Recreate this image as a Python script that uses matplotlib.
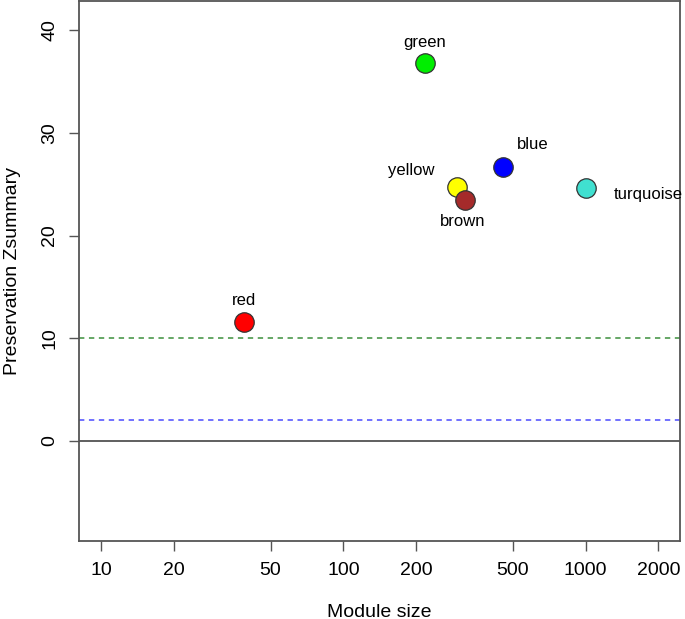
import matplotlib.pyplot as plt
import numpy as np

plt.rcParams['font.family'] = ['Liberation Sans', 'DejaVu Sans']

# Module data
modules = ["red", "green", "yellow", "brown", "blue", "turquoise"]
module_size = [39, 217, 295, 318, 455, 1000]
zsummary = [11.6, 36.8, 24.75, 23.45, 26.7, 24.6]
colores = ["#ff0000", "#00ee00", "#ffff00", "#a52a2a", "#0000ff", "#40e0d0"]

# label offsets in points (dx, dy) and alignment
offsets = {
    "red": (0, 15.5, "center"),
    "green": (0, 15, "center"),
    "yellow": (-33, 11.5, "center"),
    "brown": (-1.5, -15.5, "center"),
    "blue": (21.5, 16, "center"),
    "turquoise": (20.5, -4.5, "left"),
}

x_ticks = [10, 20, 50, 100, 200, 500, 1000, 2000]
y_ticks = [0, 10, 20, 30, 40]

fig = plt.figure(figsize=(6.85, 6.19), dpi=100)
ax = fig.add_axes([79.3 / 685, 1 - 540.7 / 619, (680 - 79.3) / 685, (540.7 - 1) / 619])

ax.set_xscale("log")
ax.set_xlim(8.11, 2455)
ax.set_ylim(-9.7, 42.82)

ax.axhline(0, color="#444444", lw=1.2, zorder=1)
ax.axhline(2, color="#4a4aff", lw=1.1, ls=(0, (3.5, 3)), zorder=1)
ax.axhline(10, color="#3c8f3c", lw=1.1, ls=(0, (3.5, 3)), zorder=1)

for nombre, xs, ys, c in zip(modules, module_size, zsummary, colores):
    ax.plot(xs, ys, "o", ms=14, mfc=c, mec="#333333", mew=0.9, zorder=3)
    dx, dy, ha = offsets[nombre]
    ax.annotate(nombre, (xs, ys), xytext=(dx, dy), textcoords="offset points",
                ha=ha, va="center", fontsize=12, zorder=4)

ax.set_xticks(x_ticks)
ax.set_xticklabels([str(t) for t in x_ticks])
ax.xaxis.set_minor_locator(plt.NullLocator())
ax.set_yticks(y_ticks)
ax.set_yticklabels([str(t) for t in y_ticks], rotation=90, va="center")

ax.tick_params(axis="both", length=7, width=1.0, color="#555555", labelsize=14, pad=8)
for sp in ax.spines.values():
    sp.set_color("#555555")
    sp.set_linewidth(1.3)

ax.set_xlabel("Module size", fontsize=14, labelpad=18)
ax.set_ylabel("Preservation Zsummary", fontsize=14, labelpad=15)

plt.savefig("out.png", dpi=100)
